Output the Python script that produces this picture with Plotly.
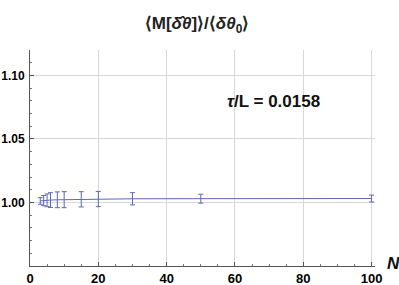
import plotly.graph_objects as go

N_values = [3, 4, 5, 6, 8, 10, 15, 20, 30, 50, 100]
ratio_mean = [1.0012, 1.0015, 1.0017, 1.0019, 1.0021, 1.0022, 1.0025, 1.0027, 1.0029, 1.0030, 1.0031]
ratio_err = [0.0026, 0.0040, 0.0050, 0.0058, 0.0062, 0.0063, 0.0060, 0.0060, 0.0048, 0.0035, 0.0027]

x_ticks = [0, 20, 40, 60, 80, 100]
y_ticks = [1.00, 1.05, 1.10]
y_tick_labels = ["1.00", "1.05", "1.10"]

blue = "#6166b8"

fig = go.Figure()
fig.add_trace(go.Scatter(
    x=N_values, y=ratio_mean, mode="lines",
    line=dict(color=blue, width=1),
    error_y=dict(type="data", array=ratio_err, visible=True, color=blue, thickness=1, width=2.5),
    hoverinfo="skip", showlegend=False,
))

fig.update_layout(
    width=399, height=285,
    margin=dict(l=30, r=24, t=50, b=19),
    paper_bgcolor="white", plot_bgcolor="white",
    font=dict(family="Liberation Sans, Arial, sans-serif", color="black"),
    title=dict(text="<b>⟨M[<i>δ̂θ</i>]⟩/⟨<i>δθ</i><sub>0</sub>⟩</b>",
               x=197 / 399, xanchor="center", y=1 - 23 / 285, yanchor="middle",
               font=dict(size=17, color="#222222")),
    xaxis=dict(range=[0, 101], tickvals=x_ticks, ticktext=[str(v) for v in x_ticks],
               showgrid=True, gridcolor="#d8d8d8", gridwidth=1,
               showline=True, linecolor="#555555", linewidth=1,
               ticks="inside", ticklen=4, tickcolor="#555555",
               minor=dict(dtick=5, ticks="inside", ticklen=2, tickcolor="#777777", showgrid=False),
               tickfont=dict(size=13, family="Liberation Sans, Arial, sans-serif", weight="bold"),
               zeroline=False, fixedrange=True, automargin=False),
    yaxis=dict(range=[0.95, 1.12], tickvals=y_ticks, ticktext=y_tick_labels,
               showgrid=True, gridcolor="#d8d8d8", gridwidth=1,
               showline=True, linecolor="#555555", linewidth=1,
               ticks="inside", ticklen=4, tickcolor="#555555",
               minor=dict(dtick=0.01, ticks="inside", ticklen=2, tickcolor="#777777", showgrid=False),
               tickfont=dict(size=12, family="Liberation Sans, Arial, sans-serif", weight="bold"),
               zeroline=False, fixedrange=True, ticklabelstandoff=2, automargin=False),
    annotations=[
        dict(text="<b><i>τ</i>/L = 0.0158</b>", x=0.705, y=0.76, xref="paper", yref="paper",
             xanchor="center", yanchor="middle", showarrow=False,
             font=dict(size=17, color="#111111")),
        dict(text="<b><i>N</i></b>", x=1.03, y=0.01, xref="paper", yref="paper",
             xanchor="left", yanchor="middle", showarrow=False,
             font=dict(size=17, color="#111111")),
    ],
)

fig.write_html("out.html", config={"displayModeBar": False},
               post_script="document.body.style.margin='0';")
